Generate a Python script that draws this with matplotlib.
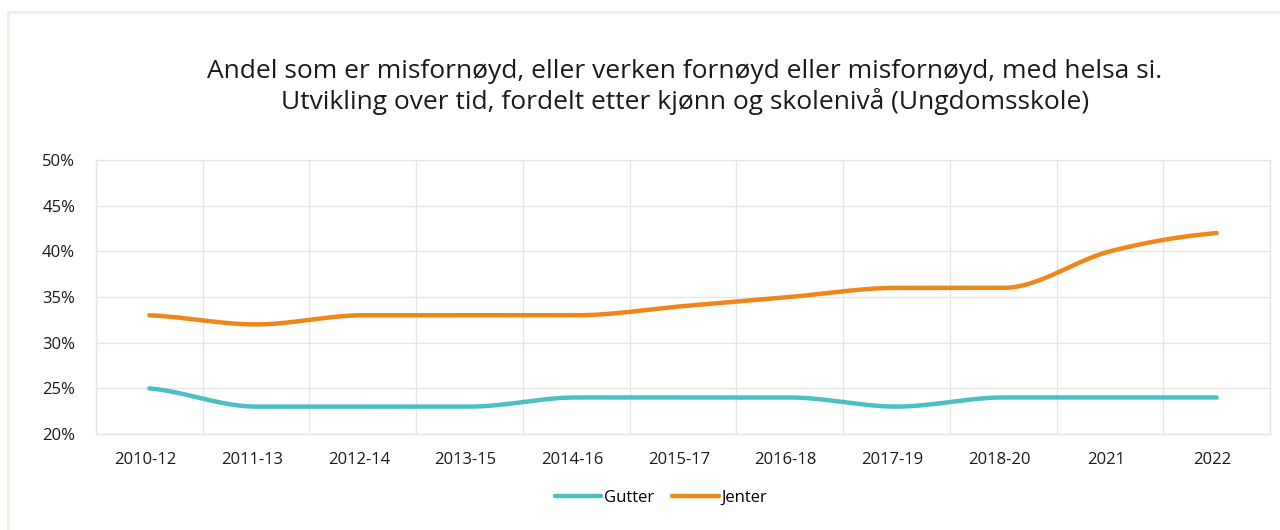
import matplotlib
matplotlib.use("Agg")
import matplotlib.pyplot as plt
import matplotlib.transforms as mtransforms
import numpy as np
from matplotlib.lines import Line2D

plt.rcParams['font.family'] = ['Open Sans', 'DejaVu Sans']

categories = ["2010-12", "2011-13", "2012-14", "2013-15", "2014-16", "2015-17",
              "2016-18", "2017-19", "2018-20", "2021", "2022"]
gutter = [25, 23, 23, 23, 24, 24, 24, 23, 24, 24, 24]
jenter = [33, 32, 33, 33, 33, 34, 35, 36, 36, 40, 42]
yticks = [20, 25, 30, 35, 40, 45, 50]
title = ("Andel som er misfornøyd, eller verken fornøyd eller misfornøyd, med helsa si.\n"
         "Utvikling over tid, fordelt etter kjønn og skolenivå (Ungdomsskole)")

def smooth(xs, ys, n=30):
    xs = np.asarray(xs, float); ys = np.asarray(ys, float)
    m = len(ys)
    d = np.zeros(m)
    for i in range(1, m - 1):
        a = ys[i] - ys[i - 1]; b = ys[i + 1] - ys[i]
        d[i] = 0.0 if a * b <= 0 else (a + b) / 2
    d[0] = (ys[1] - ys[0]) * 0.5
    d[-1] = (ys[-1] - ys[-2]) * 0.5
    ox, oy = [], []
    t = np.linspace(0, 1, n)
    for i in range(m - 1):
        h = xs[i + 1] - xs[i]
        p0 = np.array([xs[i], ys[i]]); p3 = np.array([xs[i + 1], ys[i + 1]])
        c1 = p0 + np.array([h / 3, d[i] * h / 3])
        c2 = p3 - np.array([h / 3, d[i + 1] * h / 3])
        b = ((1 - t) ** 3)[:, None] * p0 + (3 * (1 - t) ** 2 * t)[:, None] * c1 + \
            (3 * (1 - t) * t ** 2)[:, None] * c2 + (t ** 3)[:, None] * p3
        ox.extend(b[:, 0]); oy.extend(b[:, 1])
    return ox, oy

fig = plt.figure(figsize=(12.8, 5.3), dpi=100)
fig.patch.set_facecolor('white')
fig.add_artist(Line2D([8 / 1280, 1.0], [1 - 12 / 530, 1 - 12 / 530], color='#F3EFE6', lw=2.2,
                      transform=fig.transFigure))
fig.add_artist(Line2D([8 / 1280, 8 / 1280], [0, 1 - 12 / 530], color='#F3EFE6', lw=2.2,
                      transform=fig.transFigure))

ax = fig.add_axes([96 / 1280, 1 - 434 / 530, (1270 - 96) / 1280, (434 - 160) / 530])
x = np.arange(len(categories))
c_g = '#4BBFC1'
c_j = '#F0861A'
gx, gy = smooth(x, gutter)
jx, jy = smooth(x, jenter)
ax.plot(gx, gy, color=c_g, lw=3.2, solid_capstyle='round', label='Gutter', zorder=3)
ax.plot(jx, jy, color=c_j, lw=3.2, solid_capstyle='round', label='Jenter', zorder=3)

ax.set_xlim(-0.5, len(categories) - 0.5)
ax.set_ylim(20, 50)
ax.set_yticks(yticks)
ax.set_yticklabels([f"{v}%" for v in yticks])
ax.set_xticks(x)
ax.set_xticklabels(categories)
ax.set_xticks(np.arange(-0.5, len(categories), 1), minor=True)
ax.grid(True, axis='y', color='#E6E6E6', lw=1)
ax.grid(True, axis='x', which='minor', color='#E6E6E6', lw=1)
ax.grid(False, axis='x', which='major')
for s in ax.spines.values():
    s.set_color('#E6E6E6')
    s.set_linewidth(1)
ax.tick_params(axis='both', which='both', length=0, labelsize=12, colors='#1a1a1a')
ax.tick_params(axis='y', pad=15)
ax.tick_params(axis='x', pad=13)
ax.set_axisbelow(True)
offset = mtransforms.ScaledTranslation(-4 / 100, 0, fig.dpi_scale_trans)
for lab in ax.get_xticklabels():
    lab.set_transform(lab.get_transform() + offset)

fig.text(685 / 1280, 1 - 87 / 530, title, ha='center', va='center', fontsize=19,
         color='#1a1a1a', linespacing=1.2)

leg = fig.legend(loc='center', bbox_to_anchor=(661 / 1280, 1 - 498 / 530), ncol=2, frameon=False,
                 fontsize=12, handlelength=2.8, handletextpad=0.15, columnspacing=1.1)
for h in leg.get_lines():
    h.set_linewidth(3.2)
    h.set_solid_capstyle('round')

fig.savefig('out.png', dpi=100, facecolor='white')
